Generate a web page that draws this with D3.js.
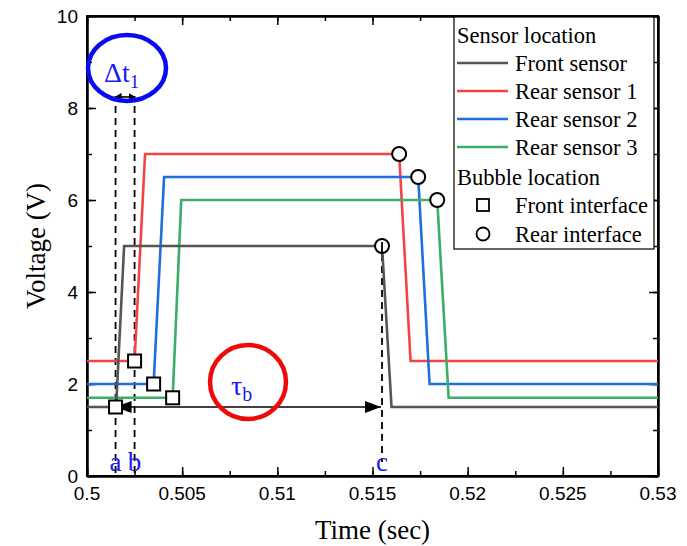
<!DOCTYPE html>
<html><head><meta charset="utf-8">
<script src="https://cdn.jsdelivr.net/npm/d3@7"></script>
<style>body{margin:0;background:#fff}svg{display:block}</style>
</head><body>
<svg id="c" width="687" height="546"></svg>
<script>
// ---- data ----
const seriesNames = ["Front sensor", "Rear sensor 1", "Rear sensor 2", "Rear sensor 3"];
const seriesColors = ["#555555", "#f24444", "#1f6fde", "#3cae68"];
const frontTime = [0.5, 0.50153, 0.50195, 0.5155, 0.5160, 0.53];
const frontVolt = [1.5, 1.5, 5, 5, 1.5, 1.5];
const rear1Time = [0.5, 0.5025, 0.50305, 0.5164, 0.5170, 0.53];
const rear1Volt = [2.5, 2.5, 7, 7, 2.5, 2.5];
const rear2Time = [0.5, 0.5035, 0.50405, 0.5174, 0.5180, 0.53];
const rear2Volt = [2, 2, 6.5, 6.5, 2, 2];
const rear3Time = [0.5, 0.5045, 0.50495, 0.5184, 0.5190, 0.53];
const rear3Volt = [1.7, 1.7, 6, 6, 1.7, 1.7];
const frontIfaceTime = [0.5015, 0.5025, 0.5035, 0.5045];
const frontIfaceVolt = [1.5, 2.5, 2.0, 1.7];
const rearIfaceTime = [0.5155, 0.5164, 0.5174, 0.5184];
const rearIfaceVolt = [5, 7, 6.5, 6];
const xTicks = [0.5, 0.505, 0.51, 0.515, 0.52, 0.525, 0.53];
const xTickLabels = ["0.5", "0.505", "0.51", "0.515", "0.52", "0.525", "0.53"];
const yTicks = [0, 2, 4, 6, 8, 10];
const markA = 0.5015, markB = 0.5025, markC = 0.5155;
const tauVolt = 1.5, dtVolt = 8.24;

const svg = d3.select("#c");
const W = 687, H = 546;
const m = {l: 87, r: 29, t: 16, b: 70};
const x = d3.scaleLinear().domain([0.5, 0.53]).range([m.l, W - m.r]);
const y = d3.scaleLinear().domain([0, 10]).range([H - m.b, m.t]);

const defs = svg.append("defs");
defs.append("marker").attr("id", "sm").attr("viewBox", "0 0 7 8")
  .attr("refX", 7).attr("refY", 4).attr("markerWidth", 7).attr("markerHeight", 8)
  .attr("markerUnits", "userSpaceOnUse").attr("orient", "auto-start-reverse")
  .append("path").attr("d", "M0,0 L7,4 L0,8 Z").attr("fill", "#000");
defs.append("marker").attr("id", "big").attr("viewBox", "0 0 16 12")
  .attr("refX", 16).attr("refY", 6).attr("markerWidth", 16).attr("markerHeight", 12)
  .attr("markerUnits", "userSpaceOnUse").attr("orient", "auto-start-reverse")
  .append("path").attr("d", "M0,0 L16,6 L0,12 Z").attr("fill", "#000");

// axes with inward ticks
const xMinor = d3.range(0.5, 0.5301, 0.0025);
const yMinor = d3.range(0, 10.01, 1);
function ax(axisFn, scale, vals, len, g) {
  const a = axisFn(scale).tickValues(vals).tickSizeInner(len).tickSizeOuter(0).tickFormat(() => "");
  g.call(a);
  g.select(".domain").attr("stroke-width", 2);
  g.selectAll(".tick line").attr("stroke-width", 1.5);
  return g;
}
const grp = (tx, ty) => svg.append("g").attr("transform", `translate(${tx},${ty})`);
ax(d3.axisTop, x, xMinor, 5, grp(0, H - m.b));
ax(d3.axisTop, x, xTicks, 9, grp(0, H - m.b));
ax(d3.axisBottom, x, xMinor, 5, grp(0, m.t));
ax(d3.axisBottom, x, xTicks, 9, grp(0, m.t));
ax(d3.axisRight, y, yMinor, 5, grp(m.l, 0));
ax(d3.axisRight, y, yTicks, 9, grp(m.l, 0));
ax(d3.axisLeft, y, yMinor, 5, grp(W - m.r, 0));
ax(d3.axisLeft, y, yTicks, 9, grp(W - m.r, 0));
svg.append("rect").attr("x", m.l).attr("y", m.t).attr("width", W - m.l - m.r).attr("height", H - m.t - m.b)
  .attr("fill", "none").attr("stroke", "#000").attr("stroke-width", 2);

// tick labels
svg.append("g").selectAll("text").data(xTicks).join("text")
  .attr("x", d => x(d)).attr("y", H - m.b + 24).attr("text-anchor", "middle")
  .attr("font-family", "Liberation Sans, Arial, sans-serif").attr("font-size", 19)
  .text((d, i) => xTickLabels[i]);
svg.append("g").selectAll("text").data(yTicks).join("text")
  .attr("x", m.l - 9).attr("y", d => y(d) + 7).attr("text-anchor", "end")
  .attr("font-family", "Liberation Sans, Arial, sans-serif").attr("font-size", 19)
  .text(d => d);

// axis titles
const serif = "Liberation Serif, Times New Roman, serif";
svg.append("text").attr("x", (m.l + W - m.r) / 2).attr("y", 539).attr("text-anchor", "middle")
  .attr("font-family", serif).attr("font-size", 27).text("Time (sec)");
svg.append("text").attr("transform", `translate(45,${(m.t + H - m.b) / 2}) rotate(-90)`).attr("text-anchor", "middle")
  .attr("font-family", serif).attr("font-size", 27).text("Voltage (V)");

// dashed guide lines
const dash = svg.append("g").attr("stroke", "#000").attr("stroke-width", 1.8).attr("stroke-dasharray", "7,5");
dash.append("line").attr("x1", x(markA)).attr("x2", x(markA)).attr("y1", y(dtVolt) + 9).attr("y2", y(0));
dash.append("line").attr("x1", x(markB)).attr("x2", x(markB)).attr("y1", y(dtVolt) + 9).attr("y2", y(0));
dash.append("line").attr("x1", x(markC)).attr("x2", x(markC)).attr("y1", y(5) + 8).attr("y2", y(0) - 14);

// series lines
const timesArr = [frontTime, rear1Time, rear2Time, rear3Time];
const voltsArr = [frontVolt, rear1Volt, rear2Volt, rear3Volt];
const line = d3.line().x(d => x(d[0])).y(d => y(d[1]));
[1, 2, 3, 0].forEach(i => {
  const pts = timesArr[i].map((t, j) => [t, voltsArr[i][j]]);
  svg.append("path").attr("d", line(pts)).attr("fill", "none")
    .attr("stroke", seriesColors[i]).attr("stroke-width", 2.6);
});

// tau arrow
svg.append("line").attr("x1", x(markA)).attr("x2", x(markC) - 1).attr("y1", y(tauVolt)).attr("y2", y(tauVolt))
  .attr("stroke", "#000").attr("stroke-width", 1.6)
  .attr("marker-start", "url(#big)").attr("marker-end", "url(#big)");

// markers
const sq = 13;
svg.append("g").selectAll("rect").data(frontIfaceTime).join("rect")
  .attr("x", d => x(d) - sq / 2).attr("y", (d, i) => y(frontIfaceVolt[i]) - sq / 2)
  .attr("width", sq).attr("height", sq).attr("fill", "#fff").attr("stroke", "#000").attr("stroke-width", 2);
svg.append("g").selectAll("circle").data(rearIfaceTime).join("circle")
  .attr("cx", d => x(d)).attr("cy", (d, i) => y(rearIfaceVolt[i])).attr("r", 7)
  .attr("fill", "#fff").attr("stroke", "#000").attr("stroke-width", 2);
svg.append("line").attr("x1", x(markC)).attr("x2", x(markC)).attr("y1", y(5) - 4).attr("y2", y(5) + 6)
  .attr("stroke", "#000").attr("stroke-width", 1.8);

// delta t arrow
svg.append("line").attr("x1", x(markA) - 1).attr("x2", x(markB) + 1).attr("y1", y(dtVolt)).attr("y2", y(dtVolt))
  .attr("stroke", "#000").attr("stroke-width", 1.6)
  .attr("marker-start", "url(#sm)").attr("marker-end", "url(#sm)");

// letters a b c
[["a", markA], ["b", markB], ["c", markC]].forEach(([t, v]) => {
  svg.append("text").attr("x", x(v)).attr("y", 471).attr("text-anchor", "middle")
    .attr("font-family", serif).attr("font-size", 27).attr("fill", "#1a1aee").text(t);
});

// delta t label & ellipse
const dt = svg.append("text").attr("x", 104).attr("y", 82).attr("font-family", serif).attr("font-size", 28).attr("fill", "#1a1aee");
dt.append("tspan").text("Δt");
dt.append("tspan").attr("font-size", 19).attr("dy", 6).text("1");
svg.append("ellipse").attr("cx", 127).attr("cy", 68).attr("rx", 39).attr("ry", 33)
  .attr("fill", "none").attr("stroke", "#0a0af0").attr("stroke-width", 4.5);

// tau label & ellipse
const tl = svg.append("text").attr("x", 231).attr("y", 395).attr("font-family", serif).attr("font-size", 28).attr("fill", "#1a1aee");
tl.append("tspan").text("τ");
tl.append("tspan").attr("font-size", 20).attr("dy", 6).text("b");
svg.append("ellipse").attr("cx", 248).attr("cy", 382).attr("rx", 38).attr("ry", 37)
  .attr("fill", "none").attr("stroke", "#ee0a0a").attr("stroke-width", 4.5);

// legend
const lg = svg.append("g");
lg.append("rect").attr("x", 454).attr("y", 17).attr("width", 200).attr("height", 232)
  .attr("fill", "#fff").attr("stroke", "#000").attr("stroke-width", 1.2);
const lfs = 22.5;
const rowY = [35, 63, 91, 119, 147, 177, 205, 234];
lg.append("text").attr("x", 457).attr("y", rowY[0] + 8).attr("font-family", serif).attr("font-size", lfs).text("Sensor location");
seriesNames.forEach((n, i) => {
  const yy = rowY[i + 1];
  lg.append("line").attr("x1", 457).attr("x2", 508).attr("y1", yy).attr("y2", yy)
    .attr("stroke", seriesColors[i]).attr("stroke-width", 2.6);
  lg.append("text").attr("x", 515).attr("y", yy + 8).attr("font-family", serif).attr("font-size", lfs).text(n);
});
lg.append("text").attr("x", 457).attr("y", rowY[5] + 8).attr("font-family", serif).attr("font-size", lfs).text("Bubble location");
lg.append("rect").attr("x", 483 - 6).attr("y", rowY[6] - 6).attr("width", 12).attr("height", 12)
  .attr("fill", "#fff").attr("stroke", "#000").attr("stroke-width", 1.8);
lg.append("text").attr("x", 515).attr("y", rowY[6] + 8).attr("font-family", serif).attr("font-size", lfs).text("Front interface");
lg.append("circle").attr("cx", 483).attr("cy", rowY[7]).attr("r", 6.5)
  .attr("fill", "#fff").attr("stroke", "#000").attr("stroke-width", 1.8);
lg.append("text").attr("x", 515).attr("y", rowY[7] + 8).attr("font-family", serif).attr("font-size", lfs).text("Rear interface");
</script>
</body></html>
